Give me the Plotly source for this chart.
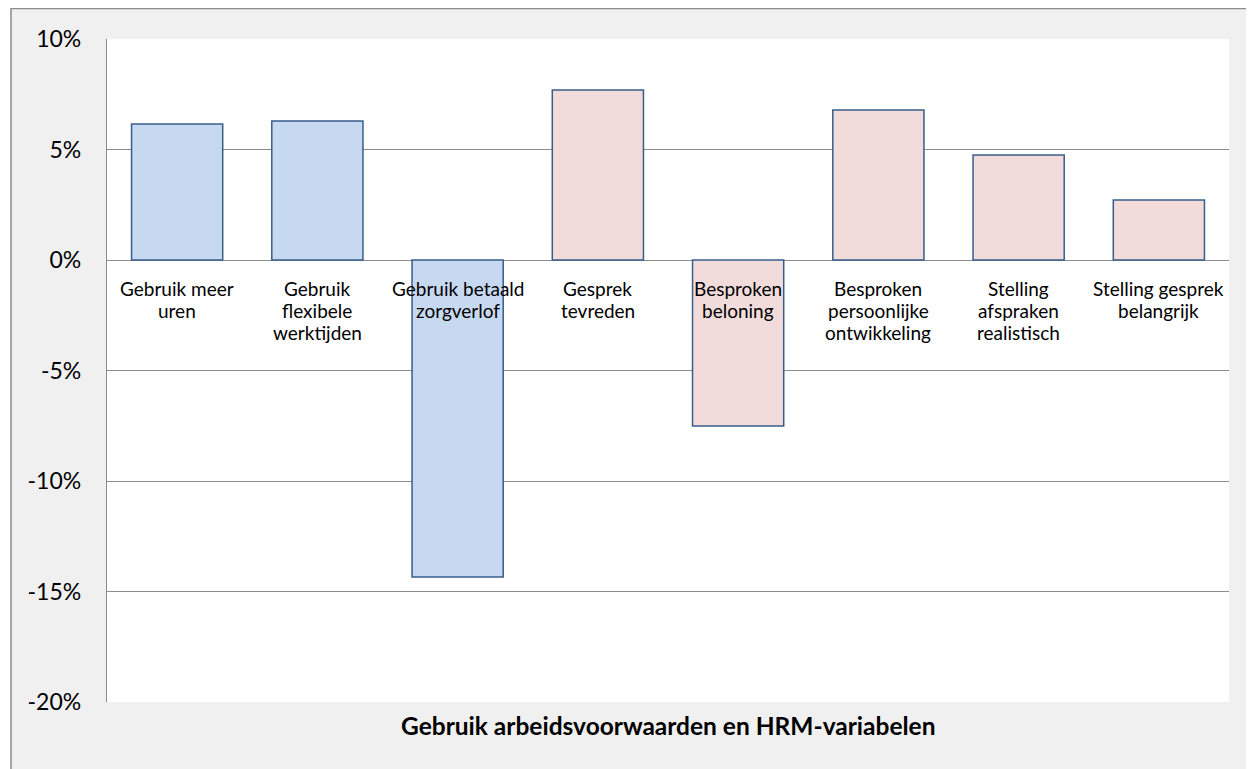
import plotly.graph_objects as go

categories = [
    "Gebruik meer<br>uren",
    "Gebruik<br>flexibele<br>werktijden",
    "Gebruik betaald<br>zorgverlof",
    "Gesprek<br>tevreden",
    "Besproken<br>beloning",
    "Besproken<br>persoonlijke<br>ontwikkeling",
    "Stelling<br>afspraken<br>realistisch",
    "Stelling gesprek<br>belangrijk",
]
values = [0.0615, 0.0629, -0.1434, 0.0769, -0.0751, 0.0679, 0.0475, 0.0271]
groups = ["arbeidsvoorwaarden"] * 3 + ["hrm"] * 5
tick_vals = [0.10, 0.05, 0.0, -0.05, -0.10, -0.15, -0.20]
tick_text = ["10%", "5%", "0%", "-5%", "-10%", "-15%", "-20%"]
x_title = "Gebruik arbeidsvoorwaarden en HRM-variabelen"

group_colors = {"arbeidsvoorwaarden": "#c6d9f1", "hrm": "#f2dcdb"}
FONT = "Lato"

fig = go.Figure()
fig.add_trace(go.Bar(
    x=categories,
    y=values,
    width=0.65,
    marker=dict(color=[group_colors[g] for g in groups],
                line=dict(color="#385d8a", width=1.5)),
    hoverinfo="x+y",
))

annotations = []
for c in categories:
    for i, line in enumerate(c.split("<br>")):
        annotations.append(dict(
            x=c, y=0, xref="x", yref="y", text=line, showarrow=False,
            yanchor="middle", yshift=-(28 + 22 * i), align="center",
            font=dict(family=FONT, size=19, color="#000000"),
        ))
annotations.append(dict(
    x=0.5, y=0, xref="paper", yref="paper", text="<b>" + x_title + "</b>",
    showarrow=False, yanchor="middle", yshift=-23,
    font=dict(family=FONT, size=24.5, color="#000000"),
))

# page body has an 8px margin, so the figure is 8px smaller than the window
W, H = 1246, 761
L, R, T, B = 99, 25, 31, 67
pw, ph = W - L - R, H - T - B

def px_x(p):
    return (p - L) / pw

def px_y(p):
    return (H - B - p) / ph

shapes = [
    dict(type="rect", xref="paper", yref="paper", layer="below",
         x0=px_x(3), x1=px_x(W + 10), y0=px_y(H + 10), y1=px_y(0.5),
         fillcolor="#f0f0f0", line=dict(color="#8c8c8c", width=1.5)),
    dict(type="rect", xref="paper", yref="paper", layer="below",
         x0=0, x1=1, y0=0, y1=1, fillcolor="#ffffff", line=dict(width=0)),
]

fig.update_layout(
    width=W, height=H,
    margin=dict(l=L, r=R, t=T, b=B),
    paper_bgcolor="#ffffff",
    plot_bgcolor="#ffffff",
    showlegend=False,
    bargap=0.35,
    font=dict(family=FONT, color="#000000"),
    annotations=annotations,
    shapes=shapes,
    xaxis=dict(showticklabels=False, showgrid=False, zeroline=False,
               showline=False, ticks=""),
    yaxis=dict(range=[-0.20, 0.10], tickvals=tick_vals, ticktext=tick_text,
               showgrid=True, gridcolor="#8c8c8c", gridwidth=1.3,
               zeroline=True, zerolinecolor="#8c8c8c", zerolinewidth=1.3,
               showline=True, linecolor="#8c8c8c", linewidth=1.3,
               ticks="", ticklabelstandoff=20,
               tickfont=dict(family=FONT, size=23, color="#000000")),
)

fig.write_html("out.html")
